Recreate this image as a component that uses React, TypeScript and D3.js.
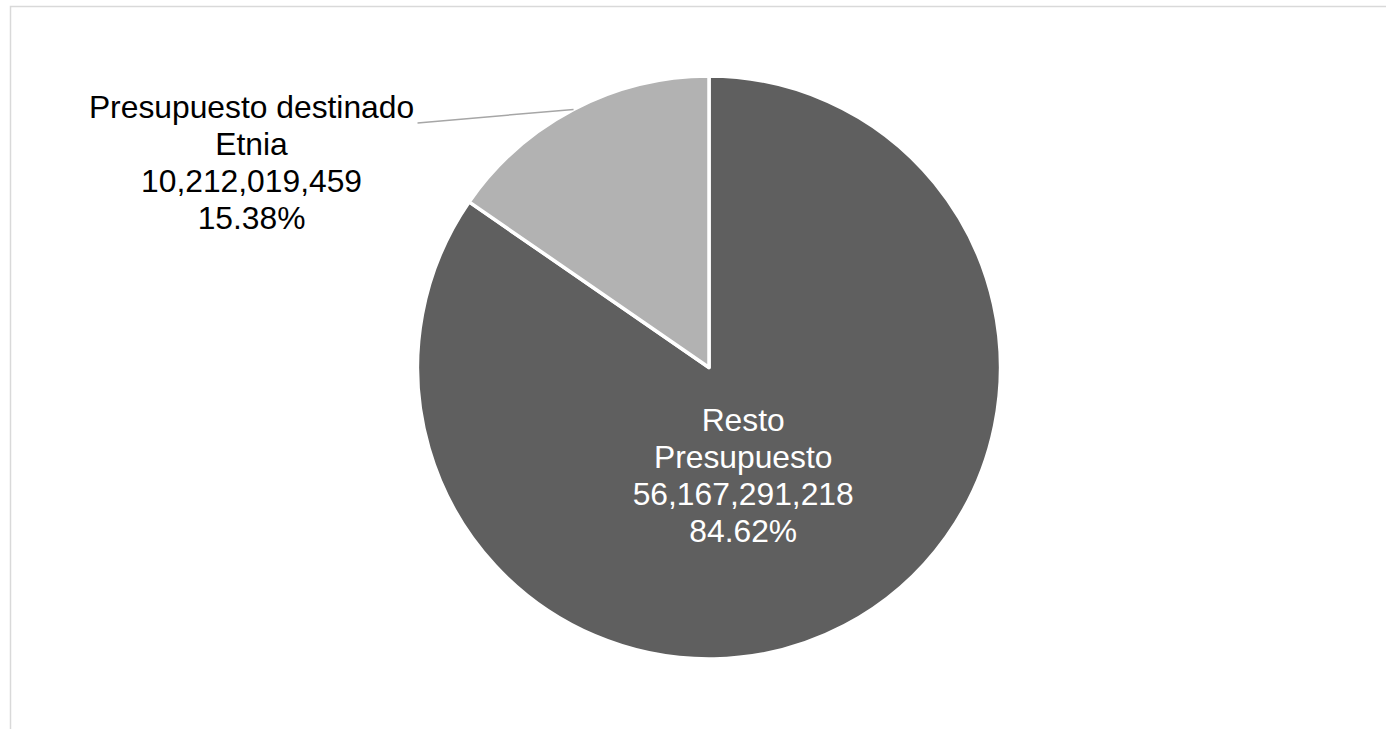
import * as d3 from 'd3';

const W = 1386;
const H = 729;

// slices in drawing order (clockwise from 12 o'clock, like Excel)
const categories = ['Resto Presupuesto', 'Presupuesto destinado Etnia'];
const labelLines = [['Resto', 'Presupuesto'], ['Presupuesto destinado', 'Etnia']];
const values = [56167291218, 10212019459];
const colors = ['#5f5f5f', '#b2b2b2'];

const cx = 709;
const cy = 367.5;
const R = 291.5;
const FONT = '"Liberation Sans", Arial, sans-serif';
const FS = 31.8;
const LH = 37;

export default function App() {
  const total = d3.sum(values);
  const pie = d3
    .pie<number>()
    .sort(null)
    .value((d) => d);
  const arcs = pie(values);
  const arc = d3.arc<d3.PieArcDatum<number>>().innerRadius(0).outerRadius(R);
  const edge = d3.arc<d3.PieArcDatum<number>>().innerRadius(R).outerRadius(R);
  const inner = d3.arc<d3.PieArcDatum<number>>().innerRadius(R * 0.4).outerRadius(R * 0.4);
  const fmt = d3.format(',');
  const pct = (v: number) => ((v / total) * 100).toFixed(2) + '%';

  // outside label for the small slice
  const [ex, ey] = edge.centroid(arcs[1]);
  const lx = ex - 156;
  const ly = ey + 13.5;

  // inside label for the big slice
  const [ix, iy] = inner.centroid(arcs[0]);

  const lines0 = [...labelLines[0], fmt(values[0]), pct(values[0])];
  const lines1 = [...labelLines[1], fmt(values[1]), pct(values[1])];

  return (
    <svg
      width={W}
      height={H}
      style={{ position: 'absolute', left: 0, top: 0, background: '#fff' }}
      fontFamily={FONT}
    >
      <rect x={10.5} y={6.5} width={W + 20} height={H + 20} fill="#fff" stroke="#d9d9d9" strokeWidth={1.5} />
      <g transform={`translate(${cx},${cy})`}>
        {arcs.map((a, i) => (
          <path key={categories[i]} d={arc(a) ?? ''} fill={colors[i]} stroke="#fff" strokeWidth={3.5} strokeLinejoin="round" />
        ))}
        <line x1={ex} y1={ey} x2={lx} y2={ly} stroke="#a6a6a6" strokeWidth={1.5} />
        <text fontSize={FS} fill="#fff" textAnchor="middle">
          {lines0.map((t, k) => (
            <tspan key={k} x={ix - 20} y={iy - 40 + k * LH}>
              {t}
            </tspan>
          ))}
        </text>
        <text fontSize={FS} fill="#000" textAnchor="middle">
          {lines1.map((t, k) => (
            <tspan key={k} x={lx - 166} y={ly - 5 + k * LH}>
              {t}
            </tspan>
          ))}
        </text>
      </g>
    </svg>
  );
}
